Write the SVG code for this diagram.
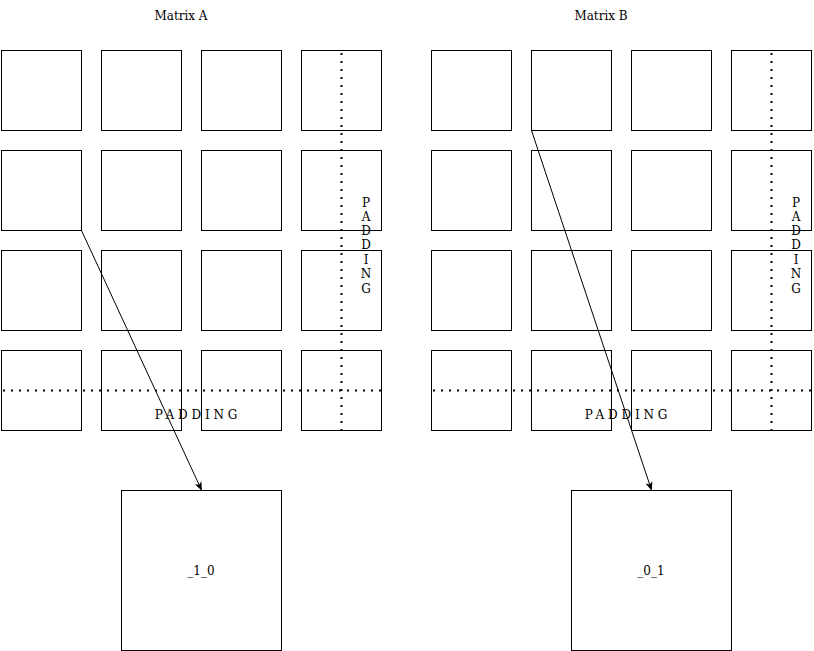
<svg xmlns="http://www.w3.org/2000/svg" width="814" height="651" viewBox="0 0 814 651">
<style>
.cell{fill:#fff;stroke:#000;stroke-width:1}
.dot{fill:none;stroke:#000;stroke-width:2;stroke-dasharray:2 6}
.t{font-family:"DejaVu Serif","Liberation Serif",serif;font-size:12px;fill:#000;text-anchor:middle}
.edge{fill:none;stroke:#000;stroke-width:1}
</style>
<defs>
<marker id="ah" viewBox="0 0 10 10" refX="9" refY="5" markerWidth="9" markerHeight="9" orient="auto" markerUnits="userSpaceOnUse">
<path d="M0,1 L10,5 L0,9 L2.5,5 Z" fill="#000"/>
</marker>
</defs>
<rect width="814" height="651" fill="#fff"/>
<g id="matrixA">
<text class="t" x="181" y="20">Matrix A</text>
<rect class="cell" x="1.5" y="50.5" width="80" height="80"/><rect class="cell" x="101.5" y="50.5" width="80" height="80"/><rect class="cell" x="201.5" y="50.5" width="80" height="80"/><rect class="cell" x="301.5" y="50.5" width="80" height="80"/>
<rect class="cell" x="1.5" y="150.5" width="80" height="80"/><rect class="cell" x="101.5" y="150.5" width="80" height="80"/><rect class="cell" x="201.5" y="150.5" width="80" height="80"/><rect class="cell" x="301.5" y="150.5" width="80" height="80"/>
<rect class="cell" x="1.5" y="250.5" width="80" height="80"/><rect class="cell" x="101.5" y="250.5" width="80" height="80"/><rect class="cell" x="201.5" y="250.5" width="80" height="80"/><rect class="cell" x="301.5" y="250.5" width="80" height="80"/>
<rect class="cell" x="1.5" y="350.5" width="80" height="80"/><rect class="cell" x="101.5" y="350.5" width="80" height="80"/><rect class="cell" x="201.5" y="350.5" width="80" height="80"/><rect class="cell" x="301.5" y="350.5" width="80" height="80"/>
<line class="dot" x1="341.5" y1="53" x2="341.5" y2="430"/>
<line class="dot" x1="3" y1="390.5" x2="381" y2="390.5"/>
<text class="t" x="198" y="419" letter-spacing="3.8">PADDING</text>
<text class="t" x="366" y="207">P</text><text class="t" x="366" y="221">A</text><text class="t" x="366" y="235">D</text><text class="t" x="366" y="249">D</text><text class="t" x="366" y="264">I</text><text class="t" x="366" y="278">N</text><text class="t" x="366" y="293">G</text>
</g>
<g id="matrixB">
<text class="t" x="601" y="20">Matrix B</text>
<rect class="cell" x="431.5" y="50.5" width="80" height="80"/><rect class="cell" x="531.5" y="50.5" width="80" height="80"/><rect class="cell" x="631.5" y="50.5" width="80" height="80"/><rect class="cell" x="731.5" y="50.5" width="80" height="80"/>
<rect class="cell" x="431.5" y="150.5" width="80" height="80"/><rect class="cell" x="531.5" y="150.5" width="80" height="80"/><rect class="cell" x="631.5" y="150.5" width="80" height="80"/><rect class="cell" x="731.5" y="150.5" width="80" height="80"/>
<rect class="cell" x="431.5" y="250.5" width="80" height="80"/><rect class="cell" x="531.5" y="250.5" width="80" height="80"/><rect class="cell" x="631.5" y="250.5" width="80" height="80"/><rect class="cell" x="731.5" y="250.5" width="80" height="80"/>
<rect class="cell" x="431.5" y="350.5" width="80" height="80"/><rect class="cell" x="531.5" y="350.5" width="80" height="80"/><rect class="cell" x="631.5" y="350.5" width="80" height="80"/><rect class="cell" x="731.5" y="350.5" width="80" height="80"/>
<line class="dot" x1="771.5" y1="53" x2="771.5" y2="430"/>
<line class="dot" x1="433" y1="390.5" x2="811" y2="390.5"/>
<text class="t" x="628" y="419" letter-spacing="3.8">PADDING</text>
<text class="t" x="796" y="207">P</text><text class="t" x="796" y="221">A</text><text class="t" x="796" y="235">D</text><text class="t" x="796" y="249">D</text><text class="t" x="796" y="264">I</text><text class="t" x="796" y="278">N</text><text class="t" x="796" y="293">G</text>
</g>
<g id="result10">
<rect class="cell" x="121.5" y="490.5" width="160" height="160"/>
<text class="t" x="201" y="575">_1_0</text>
</g>
<g id="result01">
<rect class="cell" x="571.5" y="490.5" width="160" height="160"/>
<text class="t" x="651" y="575">_0_1</text>
</g>
<g id="connectors">
<line class="edge" x1="81.5" y1="230.5" x2="201.5" y2="490" marker-end="url(#ah)"/>
<line class="edge" x1="531.5" y1="130.5" x2="651.5" y2="490" marker-end="url(#ah)"/>
</g>
</svg>
